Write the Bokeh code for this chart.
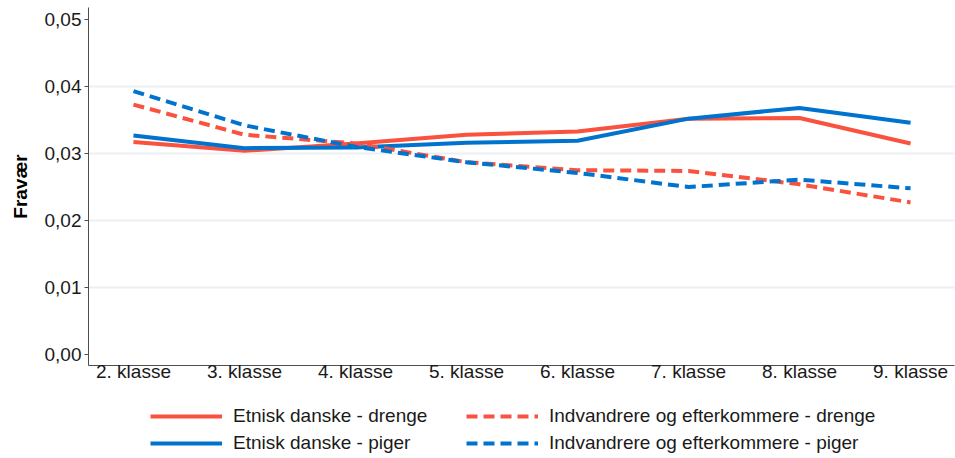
from bokeh.plotting import figure
from bokeh.layouts import column
from bokeh.models import (ColumnDataSource, FixedTicker, Legend, LegendItem, Range1d)
from bokeh.embed import file_html
from bokeh.resources import INLINE

# ---- data ----
categories = ["2. klasse", "3. klasse", "4. klasse", "5. klasse",
              "6. klasse", "7. klasse", "8. klasse", "9. klasse"]
etnisk_drenge = [0.0317, 0.0304, 0.0315, 0.0328, 0.0333, 0.0352, 0.0353, 0.0315]
etnisk_piger = [0.0327, 0.0308, 0.0309, 0.0316, 0.0319, 0.0352, 0.0368, 0.0346]
indv_drenge = [0.0373, 0.0328, 0.0315, 0.0287, 0.0275, 0.0274, 0.0254, 0.0227]
indv_piger = [0.0393, 0.0342, 0.0310, 0.0287, 0.0271, 0.0250, 0.0261, 0.0248]
y_ticks = [0.0, 0.01, 0.02, 0.03, 0.04, 0.05]
y_tick_labels = ["0,00", "0,01", "0,02", "0,03", "0,04", "0,05"]
grid_ticks = [0.01, 0.02, 0.03, 0.04]
series_labels = ["Etnisk danske - drenge", "Etnisk danske - piger",
                 "Indvandrere og efterkommere - drenge",
                 "Indvandrere og efterkommere - piger"]

RED = "#F9523F"
BLUE = "#0073CF"
FONT = "Liberation Sans"
DASH = "11 6"

xs = list(range(len(categories)))
src = ColumnDataSource(dict(x=xs, ed=etnisk_drenge, ep=etnisk_piger,
                            idr=indv_drenge, ip=indv_piger))

p = figure(frame_width=866, frame_height=358, output_backend="svg", toolbar_location=None,
           x_range=Range1d(-0.405, 7.396), y_range=Range1d(-0.00164, 0.05179),
           min_border_left=88, min_border_right=1, min_border_top=7,
           min_border_bottom=30)
p.outline_line_color = None
p.background_fill_color = "white"

styles = [("ed", RED, "solid"), ("ep", BLUE, "solid"),
          ("idr", RED, DASH), ("ip", BLUE, DASH)]
for col, colr, dash in styles:
    p.line("x", col, source=src, line_color=colr, line_width=4, line_dash=dash)

# axes
p.xaxis.ticker = FixedTicker(ticks=xs)
p.xaxis.major_label_overrides = {i: c for i, c in zip(xs, categories)}
p.yaxis.ticker = FixedTicker(ticks=y_ticks)
p.yaxis.major_label_overrides = {t: l for t, l in zip(y_ticks, y_tick_labels)}

for ax in (p.xaxis[0], p.yaxis[0]):
    ax.axis_line_color = "#4D4D4D"
    ax.axis_line_width = 1
    ax.major_label_text_font = FONT
    ax.major_label_text_font_size = "19px"
    ax.major_label_text_color = "#1A1A1A"
    ax.minor_tick_line_color = None
    ax.major_tick_line_color = "#4D4D4D"

p.xaxis.major_tick_out = 0
p.xaxis.major_tick_in = 0
p.xaxis.major_label_standoff = -5
p.yaxis.major_tick_out = 4
p.yaxis.major_tick_in = 0
p.yaxis.major_label_standoff = 3
p.yaxis.axis_label = "Fravær"
p.yaxis.axis_label_text_font = FONT
p.yaxis.axis_label_text_font_style = "bold"
p.yaxis.axis_label_text_font_size = "19px"
p.yaxis.axis_label_text_color = "#000000"
p.yaxis.axis_label_standoff = 11

p.xgrid.grid_line_color = None
p.ygrid.ticker = FixedTicker(ticks=grid_ticks)
p.ygrid.grid_line_color = "#EBEFF1"
p.ygrid.grid_line_width = 2

# ---- legend strip below the chart (frame aligned with main frame) ----
lg = figure(frame_width=866, height=63, output_backend="svg", toolbar_location=None,
            x_axis_type=None, y_axis_type=None,
            x_range=Range1d(0, 1), y_range=Range1d(0, 1),
            min_border_left=88, min_border_right=1, min_border_top=0,
            min_border_bottom=0)
lg.outline_line_color = None
lg.xgrid.grid_line_color = None
lg.ygrid.grid_line_color = None
keys = []
for col, colr, dash in styles:
    keys.append(lg.line("x", col, source=src, line_color=colr, line_width=4,
                        line_dash=dash, visible=False))

legend = Legend(items=[LegendItem(label=lab, renderers=[k])
                       for lab, k in zip(series_labels, keys)],
                orientation="vertical", nrows=2, location=(62, 4))
legend.label_text_font = FONT
legend.label_text_font_size = "19px"
legend.label_text_color = "#1A1A1A"
legend.glyph_width = 72
legend.glyph_height = 22
legend.label_height = 22
legend.label_width = 228
legend.label_standoff = 11
legend.spacing = 5
legend.padding = 0
legend.margin = 0
legend.border_line_color = None
legend.background_fill_alpha = 0
lg.add_layout(legend, "center")

layout = column(p, lg, spacing=0)
open("out.html", "w").write(file_html(layout, INLINE))
